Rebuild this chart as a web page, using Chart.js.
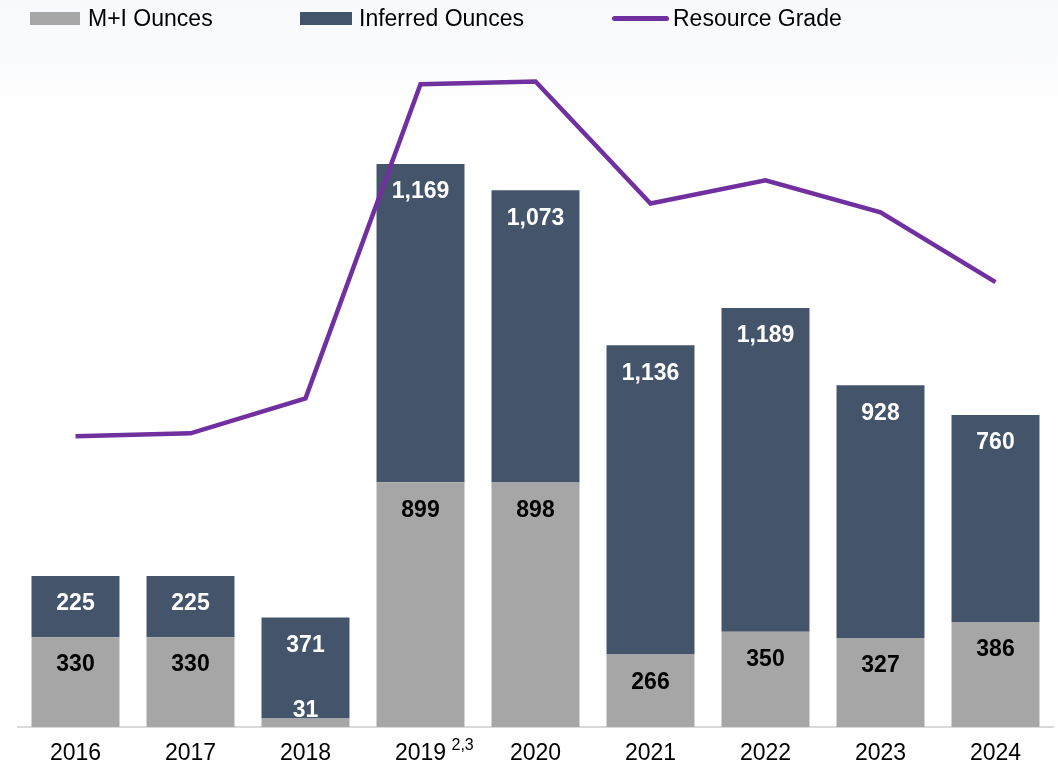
<!DOCTYPE html>
<html>
<head>
<meta charset="utf-8">
<script src="https://cdn.jsdelivr.net/npm/chart.js@4"></script>
<style>
  body { margin: 0; background: linear-gradient(#f8f9fc 0, #ffffff 130px); font-family: "Liberation Sans", Arial, sans-serif; }
  #wrap { position: relative; width: 1058px; height: 768px; }
  .lg { position: absolute; top: 5px; font-size: 23px; color: #000; line-height: 27px; }
  .sw { position: absolute; }
</style>
</head>
<body>
<div id="wrap">
  <div class="sw" style="left:30px;top:12px;width:50px;height:13px;background:#a6a6a6"></div>
  <div class="lg" style="left:88px">M+I Ounces</div>
  <div class="sw" style="left:300px;top:12px;width:52px;height:13px;background:#44546a"></div>
  <div class="lg" style="left:359px">Inferred Ounces</div>
  <div class="sw" style="left:612px;top:16px;width:57px;height:5px;border-radius:3px;background:#7030a0"></div>
  <div class="lg" style="left:673px">Resource Grade</div>
  <canvas id="myChart"></canvas>
</div>
<script>
    // values
    const years = ['2016', '2017', '2018', '2019', '2020', '2021', '2022', '2023', '2024'];
    const miOunces = [330, 330, 31, 899, 898, 266, 350, 327, 386];
    const inferredOunces = [225, 225, 371, 1169, 1073, 1136, 1189, 928, 760];
    const resourceGrade = [1.00, 1.01, 1.13, 2.21, 2.22, 1.80, 1.88, 1.77, 1.53];

    const barLabels = {
        id: 'barLabels',
        afterDatasetsDraw(chart) {
            const {ctx} = chart;
            ctx.save();
            ctx.font = 'bold 23px "Liberation Sans", Arial, sans-serif';
            ctx.textAlign = 'center';
            ctx.textBaseline = 'middle';
            [0, 1].forEach(i => {
                const meta = chart.getDatasetMeta(i);
                const vals = chart.data.datasets[i].data;
                meta.data.forEach((bar, j) => {
                    let y = bar.y + 28;
                    let color = i === 0 ? '#000000' : '#ffffff';
                    if (i === 0 && y > bar.base - 16) {
                        y = bar.base - 16;
                        if (y < bar.y) color = '#ffffff';
                    }
                    ctx.fillStyle = color;
                    ctx.fillText(vals[j].toLocaleString('en-US'), bar.x, y);
                });
            });

            // footnote on 2019
            const x = chart.scales.x.getPixelForValue(3);
            ctx.font = '16px "Liberation Sans", Arial, sans-serif';
            ctx.textAlign = 'left';
            ctx.fillStyle = '#000000';
            ctx.fillText('2,3', x + 31, 746);
            ctx.restore();
        }
    };

    const config = {
      type: 'bar',
      data: {
        labels: years,
        datasets: [
          {
            label: 'M+I Ounces',
            data: miOunces,
            backgroundColor: '#a6a6a6',
            stack: 's',
            order: 1
          },
          {
            label: 'Inferred Ounces',
            data: inferredOunces,
            backgroundColor: '#44546a',
            stack: 's',
            order: 1
          },
          {
            type: 'line',
            label: 'Resource Grade',
            data: resourceGrade,
            yAxisID: 'y2',
            borderColor: '#7030a0',
            borderWidth: 4.5,
            pointRadius: 0,
            tension: 0,
            order: 0
          }
        ]
      },
      options: {
        responsive: true,
        maintainAspectRatio: false,
        animation: false,
        categoryPercentage: 1,
        barPercentage: 0.765,
        layout: { padding: { left: 18, right: 5, top: 0, bottom: 0 } },
        plugins: {
          legend: { display: false },
          tooltip: { enabled: false }
        },
        scales: {
          x: {
            stacked: true,
            grid: { display: false, drawTicks: false },
            border: { display: true, color: '#d9d9d9', width: 2 },
            ticks: {
              color: '#000000',
              padding: 13,
              font: { family: '"Liberation Sans", Arial, sans-serif', size: 23 }
            },
            afterFit: (s) => { s.height = 41; }
          },
          y: {
            stacked: true,
            display: false,
            min: 0,
            max: 2670
          },
          y2: {
            display: false,
            min: 0,
            max: 2.5
          }
        }
      },
      plugins: [barLabels]
    };

    const myChart = new Chart(
      document.getElementById('myChart'),
      config
    );
</script>
</body>
</html>
